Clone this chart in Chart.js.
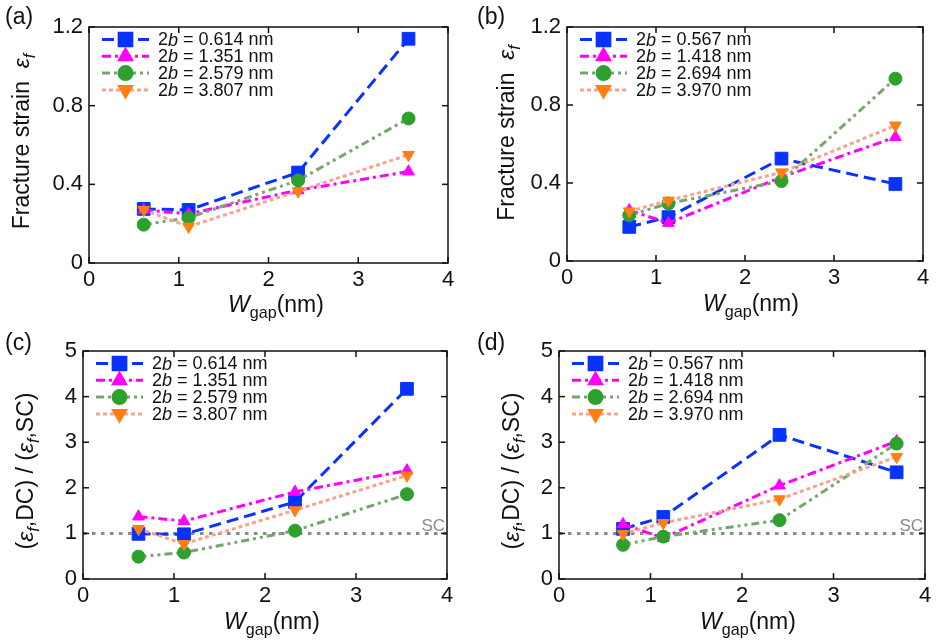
<!DOCTYPE html>
<html>
<head>
<meta charset="utf-8">
<script src="https://cdn.jsdelivr.net/npm/chart.js@4.4.0/dist/chart.umd.min.js"></script>
<style>
html, body { margin: 0; padding: 0; background: #fff; }
#wrap { position: relative; width: 939px; height: 644px; }
canvas { position: absolute; }
</style>
</head>
<body>
<div id="wrap">
  <canvas id="pa" width="470" height="322" style="left:0;top:0"></canvas>
  <canvas id="pb" width="469" height="322" style="left:470px;top:0"></canvas>
  <canvas id="pc" width="470" height="322" style="left:0;top:322px"></canvas>
  <canvas id="pd" width="469" height="322" style="left:470px;top:322px"></canvas>
</div>
<script>
// W_gap positions (nm)
var gapLeft = [0.61, 1.11, 2.33, 3.56];   // panels (a), (c)
var gapRight = [0.70, 1.14, 2.41, 3.69];  // panels (b), (d)

// ribbon widths 2b (nm)
var widthsLeft = ['0.614', '1.351', '2.579', '3.807'];
var widthsRight = ['0.567', '1.418', '2.694', '3.970'];

// (a) fracture strain
var strainA_0614 = [0.275, 0.27, 0.46, 1.14];
var strainA_1351 = [0.27, 0.25, 0.37, 0.465];
var strainA_2579 = [0.195, 0.23, 0.42, 0.735];
var strainA_3807 = [0.27, 0.185, 0.365, 0.55];

// (b) fracture strain
var strainB_0567 = [0.175, 0.225, 0.525, 0.395];
var strainB_1418 = [0.26, 0.195, 0.43, 0.635];
var strainB_2694 = [0.235, 0.295, 0.41, 0.935];
var strainB_3970 = [0.255, 0.31, 0.455, 0.695];

// (c) ratio DC / SC
var ratioC_0614 = [0.99, 0.98, 1.69, 4.17];
var ratioC_1351 = [1.37, 1.27, 1.91, 2.38];
var ratioC_2579 = [0.49, 0.58, 1.06, 1.86];
var ratioC_3807 = [1.10, 0.77, 1.51, 2.27];

// (d) ratio DC / SC
var ratioD_0567 = [1.10, 1.36, 3.16, 2.34];
var ratioD_1418 = [1.20, 0.90, 2.05, 3.02];
var ratioD_2694 = [0.75, 0.93, 1.29, 2.97];
var ratioD_3970 = [0.99, 1.23, 1.75, 2.68];

var xTicks = [0, 1, 2, 3, 4];
var strainTicks = [0, 0.4, 0.8, 1.2];
var ratioTicks = [0, 1, 2, 3, 4, 5];
var scLevel = 1;

var FONT = '"Liberation Sans", Arial, sans-serif';

var styles = [
  { line: '#0a32ff', mark: '#0a32ff', dash: [12, 6], shape: 'rect', r: 9, rot: 0 },
  { line: '#ff00ff', mark: '#ff00ff', dash: [9, 4, 3, 4], shape: 'triangle', r: 6.8, rot: 0 },
  { line: '#76a56d', mark: '#2da02d', dash: [8, 4, 3, 4, 3, 4], shape: 'circle', r: 6.5, rot: 0 },
  { line: '#f8a38f', mark: '#ff7f10', dash: [4, 3], shape: 'triangle', r: 6.8, rot: 180 }
];

var strainTitle = [{ t: 'Fracture strain  ' }, { t: 'ε', i: true }, { t: 'f', i: true, sub: true }];
var ratioTitle = [{ t: '(' }, { t: 'ε', i: true }, { t: 'f', i: true, sub: true }, { t: ',DC) / (' },
                  { t: 'ε', i: true }, { t: 'f', i: true, sub: true }, { t: ',SC)' }];
var gapTitle = [{ t: 'W', i: true }, { t: 'gap', sub: true }, { t: '(nm)' }];

function fontFor(p, size) {
  return (p.i ? 'italic ' : '') + (p.sub ? size * 0.7 : size) + 'px ' + FONT;
}

function drawRich(ctx, parts, x, y, size, align) {
  var w = 0;
  parts.forEach(function(p) { ctx.font = fontFor(p, size); w += ctx.measureText(p.t).width; });
  var cx = align === 'center' ? x - w / 2 : x;
  parts.forEach(function(p) {
    ctx.font = fontFor(p, size);
    ctx.fillText(p.t, cx, y + (p.sub ? size * 0.28 : 0));
    cx += ctx.measureText(p.t).width;
  });
}

function seg(ctx, x0, y0, x1, y1) {
  ctx.beginPath(); ctx.moveTo(x0, y0); ctx.lineTo(x1, y1); ctx.stroke();
}

function panel(id, o) {
  var canvas = document.getElementById(id);
  var W = canvas.width, H = canvas.height;
  var a = o.area; // left, top, right, bottom

  var datasets = o.series.map(function(vals, k) {
    var s = styles[k];
    return {
      label: o.labels[k],
      data: vals.map(function(v, i) { return { x: o.xs[i], y: v }; }),
      borderColor: s.line, borderWidth: 3, borderDash: s.dash,
      pointStyle: s.shape, pointRadius: s.r, pointHoverRadius: s.r, pointRotation: s.rot,
      pointBackgroundColor: s.mark, pointBorderColor: s.mark, pointBorderWidth: 1,
      fill: false, tension: 0, order: 4 - k
    };
  });
  if (o.sc) {
    datasets.push({
      label: 'SC',
      data: [{ x: xTicks[0], y: scLevel }, { x: xTicks[xTicks.length - 1], y: scLevel }],
      borderColor: '#8a8a8a', borderWidth: 3, borderDash: [3.5, 5.5],
      pointRadius: 0, fill: false, order: 10
    });
  }

  var tickFont = { family: FONT, size: 22 };

  new Chart(canvas.getContext('2d'), {
    type: 'line',
    data: { datasets: datasets },
    options: {
      responsive: false,
      animation: false,
      events: [],
      layout: { padding: { left: 0, top: a[1], right: W - a[2], bottom: 0 } },
      plugins: { legend: { display: false }, tooltip: { enabled: false } },
      scales: {
        x: {
          type: 'linear', min: xTicks[0], max: xTicks[xTicks.length - 1],
          afterBuildTicks: function(s) { s.ticks = xTicks.map(function(v) { return { value: v }; }); },
          afterFit: function(s) { s.height = H - a[3]; },
          grid: { display: false, drawTicks: false }, border: { display: false },
          ticks: { font: tickFont, color: '#111', padding: 4, maxRotation: 0, autoSkip: false,
                   callback: function(v) { return String(v); } }
        },
        y: {
          type: 'linear', min: o.yTicks[0], max: o.yTicks[o.yTicks.length - 1],
          afterBuildTicks: function(s) { s.ticks = o.yTicks.map(function(v) { return { value: v }; }); },
          afterFit: function(s) { s.width = a[0]; },
          grid: { display: false, drawTicks: false }, border: { display: false },
          ticks: { font: tickFont, color: '#111', padding: 6, autoSkip: false,
                   callback: function(v) { return String(v); } }
        }
      }
    },
    plugins: [{
      id: 'decor',
      afterDraw: function(chart) {
        var ctx = chart.ctx, ca = chart.chartArea;
        var xs = chart.scales.x, ys = chart.scales.y;
        ctx.save();

        // SC label
        if (o.sc) {
          ctx.fillStyle = '#8a8a8a';
          ctx.font = '17px ' + FONT;
          ctx.textAlign = 'right';
          ctx.textBaseline = 'alphabetic';
          ctx.fillText('SC', ca.right - 2, ys.getPixelForValue(scLevel) - 2.5);
        }

        // frame + inward ticks
        ctx.setLineDash([]);
        ctx.strokeStyle = '#111';
        ctx.lineWidth = 1.5;
        ctx.strokeRect(ca.left, ca.top, ca.right - ca.left, ca.bottom - ca.top);
        xTicks.forEach(function(v) {
          var px = xs.getPixelForValue(v);
          seg(ctx, px, ca.bottom, px, ca.bottom - 6);
          seg(ctx, px, ca.top, px, ca.top + 6);
        });
        o.yTicks.forEach(function(v) {
          var py = ys.getPixelForValue(v);
          seg(ctx, ca.left, py, ca.left + 6, py);
          seg(ctx, ca.right, py, ca.right - 6, py);
        });

        // legend
        o.labels.forEach(function(lab, k) {
          var s = styles[k];
          var y = ca.top + 12.5 + k * 16.8;
          ctx.strokeStyle = s.line;
          ctx.lineWidth = 3;
          ctx.setLineDash(s.dash);
          seg(ctx, ca.left + 13, y, ca.left + 60, y);
          ctx.setLineDash([]);
          ctx.fillStyle = s.mark;
          ctx.strokeStyle = s.mark;
          Chart.helpers.drawPoint(ctx, { pointStyle: s.shape, rotation: s.rot, radius: s.r, borderWidth: 1 },
                                  ca.left + 36.5, y);
          ctx.fillStyle = '#111';
          ctx.textAlign = 'left';
          ctx.textBaseline = 'middle';
          drawRich(ctx, [{ t: '2' }, { t: 'b', i: true }, { t: ' = ' + lab + ' nm' }], ca.left + 69, y + 1, 18, 'left');
        });

        // axis titles
        ctx.fillStyle = '#111';
        ctx.textAlign = 'left';
        ctx.textBaseline = 'alphabetic';
        drawRich(ctx, gapTitle, o.xTitlePos[0], o.xTitlePos[1], 23, 'center');

        ctx.save();
        ctx.translate(o.yTitlePos[0], o.yTitlePos[1]);
        ctx.rotate(-Math.PI / 2);
        drawRich(ctx, o.yTitle, 0, 0, 23, 'center');
        ctx.restore();

        // panel tag
        ctx.font = '23px ' + FONT;
        ctx.fillText(o.tag, o.tagPos[0], o.tagPos[1]);

        ctx.restore();
      }
    }]
  });
}

panel('pa', {
  xs: gapLeft, labels: widthsLeft, yTicks: strainTicks,
  series: [strainA_0614, strainA_1351, strainA_2579, strainA_3807],
  area: [89, 27, 448, 263], yTitle: strainTitle, yTitlePos: [28.5, 141.5],
  xTitlePos: [276, 312], tag: '(a)', tagPos: [5, 24], sc: false
});
panel('pb', {
  xs: gapRight, labels: widthsRight, yTicks: strainTicks,
  series: [strainB_0567, strainB_1418, strainB_2694, strainB_3970],
  area: [97, 27, 453, 261], yTitle: strainTitle, yTitlePos: [43.5, 133],
  xTitlePos: [281, 311], tag: '(b)', tagPos: [7, 24], sc: false
});
panel('pc', {
  xs: gapLeft, labels: widthsLeft, yTicks: ratioTicks,
  series: [ratioC_0614, ratioC_1351, ratioC_2579, ratioC_3807],
  area: [83, 29, 447, 257], yTitle: ratioTitle, yTitlePos: [33, 149],
  xTitlePos: [272, 307], tag: '(c)', tagPos: [5, 28], sc: true
});
panel('pd', {
  xs: gapRight, labels: widthsRight, yTicks: ratioTicks,
  series: [ratioD_0567, ratioD_1418, ratioD_2694, ratioD_3970],
  area: [89, 29, 455, 257], yTitle: ratioTitle, yTitlePos: [49, 149],
  xTitlePos: [278, 307], tag: '(d)', tagPos: [7, 28], sc: true
});
</script>
</body>
</html>
